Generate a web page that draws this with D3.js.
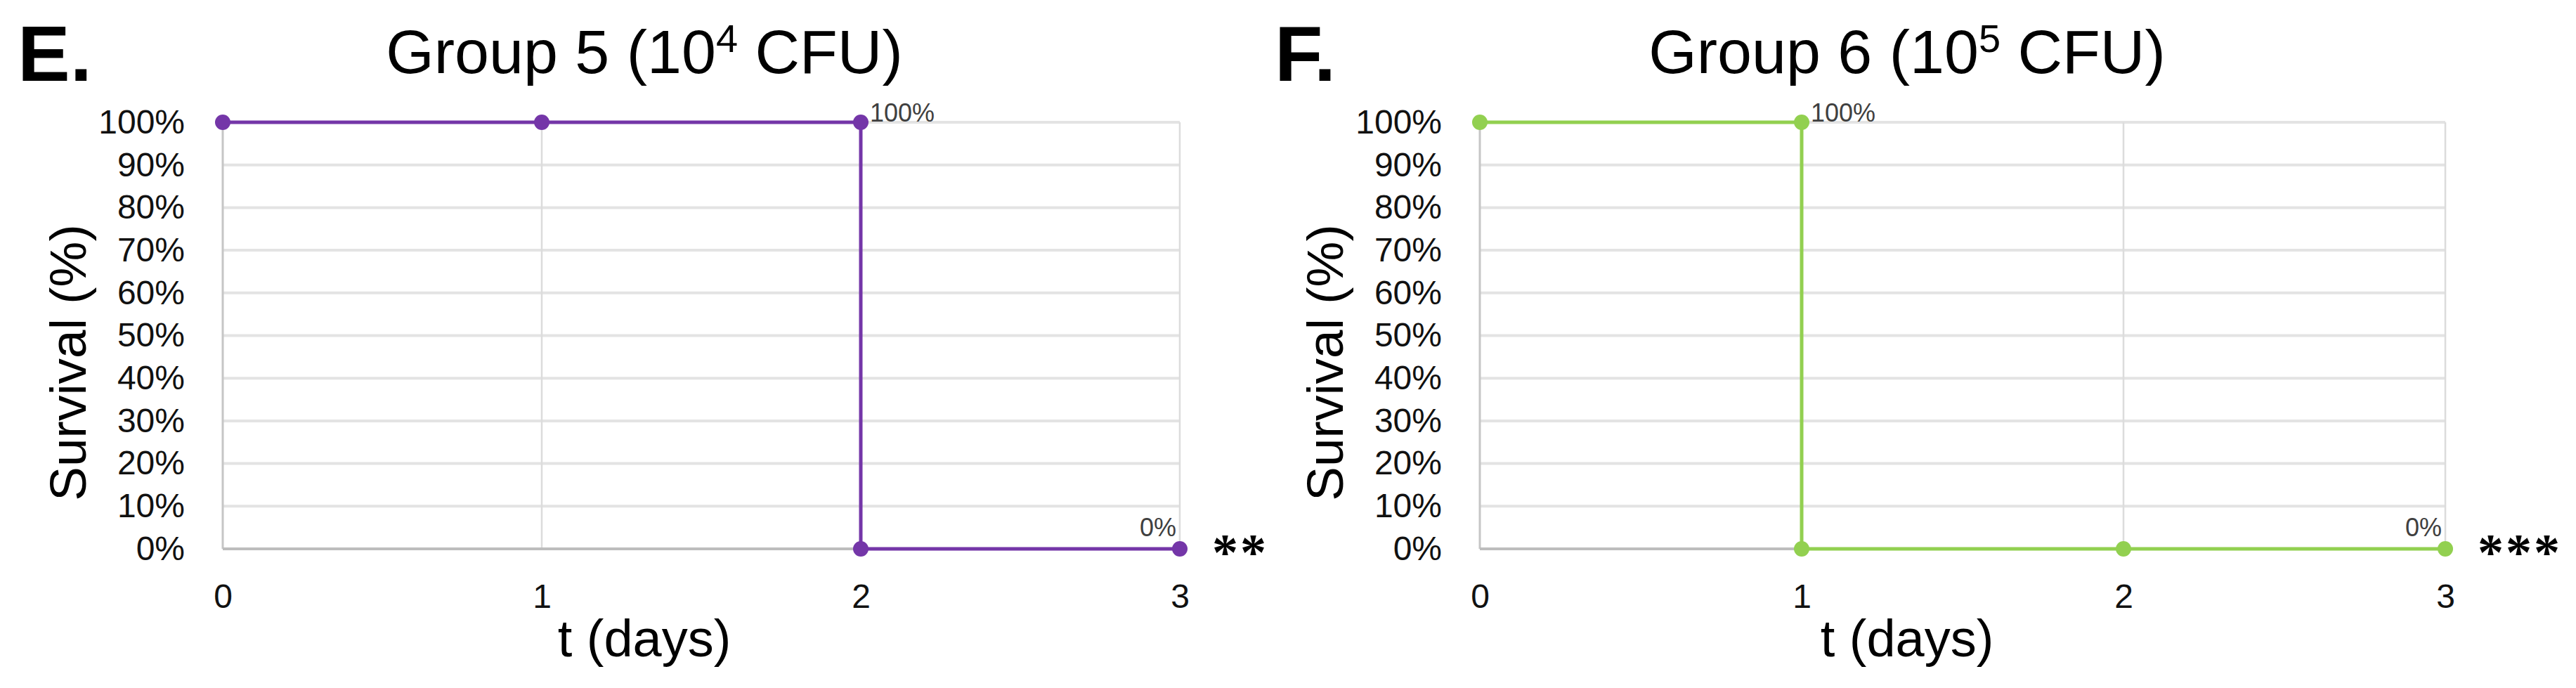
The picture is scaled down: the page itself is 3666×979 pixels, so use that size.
<!DOCTYPE html>
<html>
<head>
<meta charset="utf-8">
<script src="https://cdn.jsdelivr.net/npm/d3@7"></script>
<style>
  body { margin: 0; background: #fff; }
  svg { display: block; }
</style>
</head>
<body>
<svg id="chart" width="3666" height="979"></svg>
<script>
// survival curves (day, % surviving)
const group5Days = [0, 1, 2, 2, 3];
const group5Survival = [100, 100, 100, 0, 0];
const group6Days = [0, 1, 1, 2, 3];
const group6Survival = [100, 100, 0, 0, 0];

const dayTicks = [0, 1, 2, 3];
const survivalTicks = [0, 10, 20, 30, 40, 50, 60, 70, 80, 90, 100];

const panelLetters = ['E.', 'F.'];
const groupNames = ['Group 5 (10', 'Group 6 (10'];
const exponents = ['4', '5'];
const significance = ['**', '***'];
// which point carries the "100%" label, and the last point carries "0%"
const labelTopIndex = [2, 1];

class SurvivalPanel {
  constructor(svg, opts) {
    this.svg = svg;
    this.o = opts;
    this.g = svg.append('g');
    this.top = 174;
    this.bottom = 781;
    this.scaleX = d3.scaleLinear()
      .domain([0, 3])
      .range([opts.left, opts.right]);
    this.scaleY = d3.scaleLinear()
      .domain([0, 100])
      .range([this.bottom, this.top]);
  }

  draw() {
    this.drawGrid();
    this.drawAxis();
    this.drawTitles();
    this.drawCurve();
  }

  drawGrid() {
    const { left, right } = this.o;
    // horizontal grid
    this.g.append('g').selectAll('line')
      .data(survivalTicks.filter(d => d > 0))
      .join('line')
      .attr('x1', left)
      .attr('x2', right)
      .attr('y1', d => this.scaleY(d))
      .attr('y2', d => this.scaleY(d))
      .attr('stroke', '#e3e3e3')
      .attr('stroke-width', 4);
    // vertical grid
    this.g.append('g').selectAll('line')
      .data(dayTicks.filter(d => d > 0))
      .join('line')
      .attr('x1', d => this.scaleX(d))
      .attr('x2', d => this.scaleX(d))
      .attr('y1', this.top)
      .attr('y2', this.bottom)
      .attr('stroke', '#dcdcdc')
      .attr('stroke-width', 2.5);
    // axis lines
    this.g.append('line')
      .attr('x1', left).attr('x2', left)
      .attr('y1', this.top).attr('y2', this.bottom)
      .attr('stroke', '#c6c6c6')
      .attr('stroke-width', 3);
    this.g.append('line')
      .attr('x1', left).attr('x2', right)
      .attr('y1', this.bottom).attr('y2', this.bottom)
      .attr('stroke', '#bdbdbd')
      .attr('stroke-width', 4);
  }

  drawAxis() {
    const yAxis = this.g.append('g')
      .attr('transform', `translate(${this.o.left}, 0)`)
      .call(d3.axisLeft(this.scaleY)
        .tickValues(survivalTicks)
        .tickFormat(d => `${d}%`)
        .tickSize(0)
        .tickPadding(54));
    const xAxis = this.g.append('g')
      .attr('transform', `translate(0, ${this.bottom})`)
      .call(d3.axisBottom(this.scaleX)
        .tickValues(dayTicks)
        .tickFormat(d3.format('d'))
        .tickSize(0)
        .tickPadding(50));
    [yAxis, xAxis].forEach((ax) => {
      ax.select('.domain').remove();
      ax.selectAll('text')
        .attr('font-family', 'Liberation Sans, Arial, sans-serif')
        .attr('font-size', 48)
        .attr('fill', '#111');
    });
  }

  drawTitles() {
    const { left, titleX, idx } = this.o;
    this.g.append('text')
      .attr('x', left - 292)
      .attr('y', 115)
      .attr('font-family', 'Liberation Sans, Arial, sans-serif')
      .attr('font-weight', 'bold')
      .attr('font-size', 112)
      .attr('fill', '#000')
      .text(panelLetters[idx]);

    const title = this.g.append('text')
      .attr('x', titleX)
      .attr('y', 104)
      .attr('text-anchor', 'middle')
      .attr('font-family', 'Liberation Sans, Arial, sans-serif')
      .attr('font-size', 88)
      .attr('fill', '#000');
    title.append('tspan').text(groupNames[idx]);
    title.append('tspan')
      .attr('font-size', 56)
      .attr('dy', -30)
      .text(exponents[idx]);
    title.append('tspan')
      .attr('dy', 30)
      .text(' CFU)');

    this.g.append('text')
      .attr('x', titleX)
      .attr('y', 934)
      .attr('text-anchor', 'middle')
      .attr('font-family', 'Liberation Sans, Arial, sans-serif')
      .attr('font-size', 74)
      .attr('fill', '#000')
      .text('t (days)');

    this.g.append('text')
      .attr('transform', `translate(${left - 195}, 516) rotate(-90)`)
      .attr('text-anchor', 'middle')
      .attr('font-family', 'Liberation Sans, Arial, sans-serif')
      .attr('font-size', 73)
      .attr('fill', '#000')
      .text('Survival (%)');
  }

  drawCurve() {
    const { days, survival, color, idx } = this.o;
    const pts = days.map((d, i) => ({ day: d, value: survival[i] }));
    const line = d3.line()
      .x(d => this.scaleX(d.day))
      .y(d => this.scaleY(d.value));

    this.g.append('path')
      .datum(pts)
      .attr('d', line)
      .attr('fill', 'none')
      .attr('stroke', color)
      .attr('stroke-width', 5);

    this.g.append('g').selectAll('circle')
      .data(pts)
      .join('circle')
      .attr('cx', d => this.scaleX(d.day))
      .attr('cy', d => this.scaleY(d.value))
      .attr('r', 11)
      .attr('fill', color);

    const topPt = pts[labelTopIndex[idx]];
    const lastPt = pts[pts.length - 1];
    this.g.append('text')
      .attr('x', this.scaleX(topPt.day) + 13)
      .attr('y', this.scaleY(topPt.value) - 1)
      .attr('font-family', 'Liberation Sans, Arial, sans-serif')
      .attr('font-size', 36)
      .attr('fill', '#404040')
      .text(`${topPt.value}%`);
    this.g.append('text')
      .attr('x', this.scaleX(lastPt.day) - 5)
      .attr('y', this.scaleY(lastPt.value) - 18)
      .attr('text-anchor', 'end')
      .attr('font-family', 'Liberation Sans, Arial, sans-serif')
      .attr('font-size', 36)
      .attr('fill', '#404040')
      .text(`${lastPt.value}%`);

    // significance stars next to the curve end
    this.g.append('text')
      .attr('x', this.scaleX(lastPt.day) + 46)
      .attr('y', this.scaleY(lastPt.value) + 30)
      .attr('font-family', 'Liberation Serif, Times New Roman, serif')
      .attr('font-weight', 'bold')
      .attr('font-size', 74)
      .attr('letter-spacing', 3)
      .attr('fill', '#000')
      .text(significance[idx]);
  }
}

const svg = d3.select('#chart');

new SurvivalPanel(svg, {
  idx: 0,
  days: group5Days,
  survival: group5Survival,
  color: '#7436a8',
  left: 317,
  right: 1679,
  titleX: 917,
}).draw();

new SurvivalPanel(svg, {
  idx: 1,
  days: group6Days,
  survival: group6Survival,
  color: '#92d050',
  left: 2106,
  right: 3480,
  titleX: 2714,
}).draw();
</script>
</body>
</html>
